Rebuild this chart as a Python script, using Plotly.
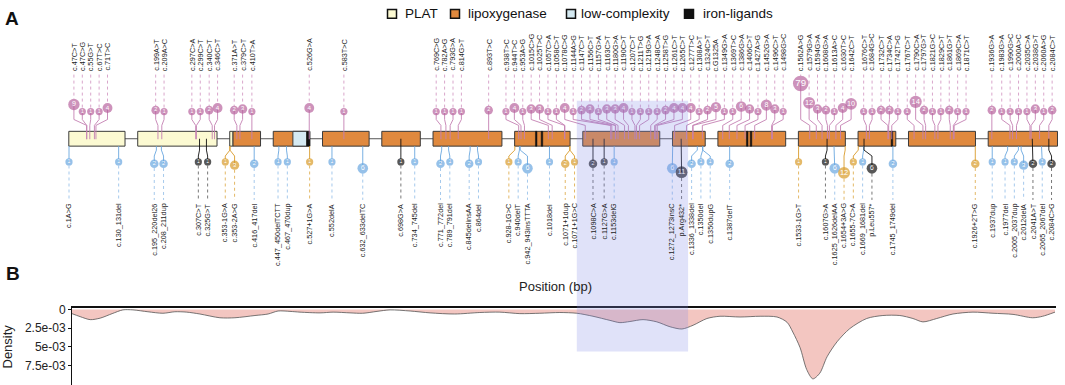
import math
import plotly.graph_objects as go

# ---------------- data ----------------
exon_start = [1, 147, 353, 433, 528, 649, 749, 928, 1072, 1272, 1357, 1533, 1655, 1753, 1927]
exon_end = [146, 352, 432, 527, 648, 748, 927, 1071, 1271, 1356, 1532, 1654, 1752, 1926, 2106]

plat_range = [1, 360]
lipoxygenase_range = [361, 2106]
low_complexity_range = [484, 519]
iron_ligand_ranges = [[520, 527], [982, 985], [997, 1000], [1431, 1434], [1441, 1444], [1741, 1744]]

top_labels = [
    "c.47C>T", "c.47C>G", "c.55G>T", "c.67T>C", "c.71T>C", "c.199A>T", "c.209A>C", "c.297C>A",
    "c.299C>T", "c.340C>T", "c.346C>T", "c.371A>T", "c.379C>T", "c.410T>A", "c.526G>A", "c.583T>C",
    "c.769C>G", "c.782A>G", "c.793G>A", "c.814G>T", "c.893T>C", "c.938T>C", "c.944T>C", "c.953A>G",
    "c.1015C>G", "c.1025T>C", "c.1057C>A", "c.1058C>T", "c.1078C>G", "c.1144A>G", "c.1147C>T",
    "c.1156C>T", "c.1157G>A", "c.1163C>T", "c.1180G>A", "c.1190C>T", "c.1207C>T", "c.1211T>G",
    "c.1219G>A", "c.1248C>A", "c.1258T>G", "c.1261C>T", "c.1265C>T", "c.1277T>C", "c.1308A>T",
    "c.1324C>T", "c.G1325A", "c.1349G>A", "c.1369T>C", "c.1386G>A", "c.1406C>T", "c.1427A>G",
    "c.1452G>A", "c.1496C>T", "c.1498G>C", "c.1562A>G", "c.1579G>A", "c.1594G>A", "c.1608G>A",
    "c.1613A>C", "c.1630T>C", "c.1642C>T", "c.1676C>T", "c.1684G>C", "c.1732C>T", "c.1734C>A",
    "c.1742T>G", "c.1767C>T", "c.1790C>A", "c.1797G>T", "c.1821G>C", "c.1829C>T", "c.1861G>T",
    "c.1869C>A", "c.1871C>T", "c.1936G>A", "c.1983G>A", "c.1990G>C", "c.2000A>C", "c.2035C>A",
    "c.2038G>T", "c.2060A>G", "c.2084C>T",
]
top_cdna = [
    47, 47, 55, 67, 71, 199, 209, 297, 299, 340, 346, 371, 379, 410, 526, 583,
    769, 782, 793, 814, 893, 938, 944, 953, 1015, 1025, 1057, 1058, 1078, 1144, 1147,
    1156, 1157, 1163, 1180, 1190, 1207, 1211, 1219, 1248, 1258, 1261, 1265, 1277, 1308,
    1324, 1325, 1349, 1369, 1386, 1406, 1427, 1452, 1496, 1498, 1562, 1579, 1594, 1608,
    1613, 1630, 1642, 1676, 1684, 1732, 1734, 1742, 1767, 1790, 1797, 1821, 1829, 1861,
    1869, 1871, 1936, 1983, 1990, 2000, 2035, 2038, 2060, 2084,
]
top_counts = [
    9, 1, 1, 1, 4, 2, 1, 1, 1, 2, 4, 2, 3, 1, 4, 1,
    1, 1, 1, 1, 2, 1, 4, 1, 3, 3, 1, 1, 4, 1, 2,
    3, 1, 3, 3, 4, 1, 1, 1, 1, 2, 4, 4, 4, 1,
    2, 5, 1, 1, 6, 3, 1, 8, 3, 1, 79, 12, 3, 2,
    1, 4, 10, 1, 1, 2, 2, 1, 1, 14, 2, 1, 1, 2,
    1, 1, 2, 1, 1, 1, 1, 3, 1, 2,
]

bottom_labels = [
    "c.1A>G", "c.130_131del", "c.195_220del26", "c.208_211dup", "c.307C>T", "c.325G>T",
    "c.353-1G>A", "c.353-2A>G", "c.416_417del", "c.447_450delTCTT", "c.467_470dup", "c.527+1G>A",
    "c.552delA", "c.632_633delTC", "c.698G>A", "c.734_745del", "c.771_772del", "c.789_791del",
    "c.845delinsAA", "c.864del", "c.928-1G>C", "c.940delT", "c.942_943insTTTA", "c.1018del",
    "c.1071+1dup", "c.1071+1G>C", "c.1098C>A", "c.1127G>A", "c.1153delG", "c.1272_1273insC",
    "p.Arg432*", "c.1336_1338del", "c.1350del", "c.1350dupG", "c.1387delT", "c.1533-1G>T",
    "c.1607G>A", "c.1625_1626delAA", "c.1654+3A>G", "c.1655-7C>A", "c.1669_1681del", "p.Leu557*",
    "c.1745_1749del", "c.1926+2T>G", "c.1937dup", "c.1977del", "c.2005_2037dup", "c.2012delA",
    "c.2041A>T", "c.2065_2067del", "c.2084C>G",
]
bottom_cdna = [
    1, 130, 195, 208, 307, 325, 353, 353, 416, 447, 467, 527,
    552, 632, 698, 734, 771, 789, 845, 864, 928, 940, 942, 1018,
    1071, 1071, 1098, 1127, 1153, 1272, 1294, 1336, 1350, 1350, 1387, 1533,
    1607, 1625, 1654, 1655, 1669, 1670, 1745, 1926, 1937, 1977, 2005, 2012,
    2041, 2065, 2084,
]
bottom_counts = [
    1, 1, 2, 2, 1, 1, 1, 3, 2, 1, 1, 1,
    1, 6, 1, 1, 2, 1, 2, 1, 1, 1, 6, 1,
    2, 1, 2, 1, 1, 6, 11, 2, 1, 1, 2, 1,
    1, 6, 12, 1, 1, 6, 2, 2, 1, 1, 1, 3,
    2, 1, 2,
]
bottom_class = [
    "indel", "indel", "indel", "indel", "nonsense", "nonsense", "splice", "splice", "indel", "indel", "indel", "splice",
    "indel", "indel", "nonsense", "indel", "indel", "indel", "indel", "indel", "splice", "indel", "indel", "indel",
    "splice", "splice", "nonsense", "nonsense", "indel", "indel", "nonsense", "indel", "indel", "indel", "indel", "splice",
    "nonsense", "indel", "splice", "splice", "indel", "nonsense", "indel", "splice", "indel", "indel", "indel", "indel",
    "nonsense", "indel", "nonsense",
]

# density of variants along the plotted position (bp, introns compressed)
density_pos = [
    6, 30, 56, 82, 113, 141, 167, 206, 245, 276,
    307, 341, 393, 432, 484, 518, 544, 575, 601, 653,
    687, 731, 764, 801, 835, 887, 939, 1003, 1068, 1120,
    1172, 1224, 1276, 1320, 1362, 1406, 1432, 1458, 1492, 1528,
    1562, 1593, 1622, 1658, 1692, 1744, 1796, 1840, 1866, 1881,
    1900, 1917, 1933, 1951, 1970, 1996, 2029, 2073, 2115, 2159,
    2193, 2219, 2255, 2297, 2349, 2401, 2453, 2504, 2530, 2562,
]
density_val_e3 = [
    0.5, 0.95, 1.35, 1.15, 0.55, 0.05, 0.05, 0.3, 0.5, 0.3,
    0.35, 0.6, 1.1, 1.1, 0.8, 0.6, 0.2, 0.25, 0.35, 0.45,
    0.35, 0.45, 0.5, 0.25, 0.05, 0.2, 0.45, 0.6, 0.4, 0.35,
    0.55, 0.5, 0.4, 0.5, 0.9, 1.45, 1.75, 1.6, 1.35, 1.65,
    2.3, 2.6, 2.1, 1.2, 0.9, 1.0, 0.9, 1.0, 1.7, 3.0,
    5.1, 8.0, 9.25, 8.5, 6.3, 4.3, 2.55, 1.2, 0.8, 0.8,
    1.2, 1.65, 1.2, 0.6, 0.35, 0.5, 0.65, 1.1, 0.9, 0.35,
]
highlight_pos = [1320, 1609]

density_ticks = [0, 0.0025, 0.005, 0.0075]
density_ticktext = ["0", "2.5e-03", "5e-03", "7.5e-03"]

legend_names = ["PLAT", "lipoxygenase", "low-complexity", "iron-ligands"]

# ---------------- layout constants ----------------
W, H = 1065, 385
INTRON_GAP_BP = 33
PX_ORIGIN = 69.0
PX_PER_BP = 0.385
FONT = "Liberation Sans, Arial, sans-serif"

PINK = "#B8649E"
PINK_LINE = "#C480B2"
PINK_DOT = "#D9A6CB"
ORANGE_BOX = "#E0893E"
PLAT_FILL = "#FCFAD2"
LOWC_FILL = "#D5EAF2"
CLASS_COL = {"indel": "#6AA7DF", "splice": "#D99B2A", "nonsense": "#111111"}
CLASS_DOT = {"indel": "#A5C9EC", "splice": "#E3B866", "nonsense": "#777777"}

TRACK_TOP, TRACK_BOT, TRACK_MID = 128, 143, 135.5
LABEL_SIZE = 7.3


def exon_of(c):
    best, bd = 0, 1e9
    for k, (s, e) in enumerate(zip(exon_start, exon_end)):
        if s <= c <= e:
            return k
        d = min(abs(c - s), abs(c - e))
        if d < bd:
            best, bd = k, d
    return best


def plot_pos(c):
    return c + INTRON_GAP_BP * exon_of(c)


def pos_from_px(px):
    return 1 + (px - PX_ORIGIN) / PX_PER_BP


def paper_y(px_y):
    return 1 - px_y / H


def spread(anchors, gap):
    order = sorted(range(len(anchors)), key=lambda i: anchors[i])
    b = [anchors[i] - j * gap for j, i in enumerate(order)]
    blocks = []
    for v in b:
        blocks.append([v, 1])
        while len(blocks) > 1 and blocks[-2][0] / blocks[-2][1] > blocks[-1][0] / blocks[-1][1]:
            s, n = blocks.pop()
            blocks[-1][0] += s
            blocks[-1][1] += n
    z = []
    for s, n in blocks:
        z += [s / n] * n
    out = [0.0] * len(anchors)
    for j, i in enumerate(order):
        out[i] = z[j] + j * gap
    return out


def radius(n):
    return 3.6 + 0.95 * math.log(n)


fig = go.Figure()
shapes = []
annotations = []

# ---------------- gene track ----------------
shapes.append(dict(type="line", xref="x", yref="y", x0=plot_pos(exon_start[0]), x1=plot_pos(exon_end[-1]),
                   y0=TRACK_MID, y1=TRACK_MID, line=dict(color="#555555", width=1), layer="below"))


def domain_rects(rng, fill, line_w=1, line_col="#3a3a3a"):
    out = []
    for k, (s, e) in enumerate(zip(exon_start, exon_end)):
        a, b = max(s, rng[0]), min(e, rng[1])
        if a <= b:
            out.append(dict(type="rect", xref="x", yref="y",
                            x0=a + INTRON_GAP_BP * k - 0.5, x1=b + INTRON_GAP_BP * k + 0.5,
                            y0=TRACK_TOP, y1=TRACK_BOT, fillcolor=fill,
                            line=dict(color=line_col, width=line_w), layer="below"))
    return out


shapes += domain_rects(lipoxygenase_range, ORANGE_BOX)
shapes += domain_rects(plat_range, PLAT_FILL)
shapes += domain_rects(low_complexity_range, LOWC_FILL)
for r in iron_ligand_ranges:
    shapes += domain_rects(r, "#111111", line_w=0.5, line_col="#111111")

# ---------------- top lollipops ----------------
top_anchor = [plot_pos(c) for c in top_cdna]
top_lx = spread(top_anchor, 8.4 / PX_PER_BP)
top_r = [radius(n) for n in top_counts]
top_cy = [108 - 3.6 * (math.sqrt(n) - 1) for n in top_counts]

sx, sy, dx, dy = [], [], [], []
for ax, lx, cy, r in zip(top_anchor, top_lx, top_cy, top_r):
    sx += [lx, lx, ax, ax, None]
    sy += [cy, 116, 122, 136, None]
    dx += [lx, lx, None]
    dy += [70.5, cy - r, None]
fig.add_trace(go.Scatter(x=sx, y=sy, mode="lines", line=dict(color=PINK_LINE, width=0.9),
                         hoverinfo="skip", showlegend=False))
fig.add_trace(go.Scatter(x=dx, y=dy, mode="lines", line=dict(color=PINK_DOT, width=1, dash="dot"),
                         hoverinfo="skip", showlegend=False))
fig.add_trace(go.Scatter(x=top_lx, y=top_cy, mode="markers+text",
                         marker=dict(size=[2 * r for r in top_r], color=PINK, line=dict(width=0)),
                         text=[str(n) for n in top_counts], textposition="middle center",
                         textfont=dict(color="white", size=[max(5, 1.25 * r) for r in top_r], family=FONT),
                         hoverinfo="skip", showlegend=False))
for lab, lx in zip(top_labels, top_lx):
    annotations.append(dict(x=lx, y=69, xref="x", yref="y", text=lab, showarrow=False, textangle=-90,
                            xanchor="center", yanchor="bottom",
                            font=dict(size=LABEL_SIZE, color="#222", family=FONT)))

# ---------------- bottom lollipops ----------------
bot_anchor = [plot_pos(c) for c in bottom_cdna]
bot_lx = spread(bot_anchor, 9.3 / PX_PER_BP)
bot_r = [radius(n) for n in bottom_counts]
bot_cy = [159 + 4.5 * (math.sqrt(n) - 1) for n in bottom_counts]

for cls in ["indel", "splice", "nonsense"]:
    sx, sy, dx, dy = [], [], [], []
    for ax, lx, cy, r, c in zip(bot_anchor, bot_lx, bot_cy, bot_r, bottom_class):
        if c != cls:
            continue
        y0 = TRACK_MID if cls == "nonsense" else TRACK_BOT
        sx += [ax, ax, lx, lx, None]
        sy += [y0, 147, 153, cy, None]
        dx += [lx, lx, None]
        dy += [cy + r, 197.5, None]
    fig.add_trace(go.Scatter(x=sx, y=sy, mode="lines", line=dict(color=CLASS_COL[cls], width=0.9),
                             hoverinfo="skip", showlegend=False))
    fig.add_trace(go.Scatter(x=dx, y=dy, mode="lines", line=dict(color=CLASS_DOT[cls], width=1, dash="dot"),
                             hoverinfo="skip", showlegend=False))

fig.add_trace(go.Scatter(x=bot_lx, y=bot_cy, mode="markers+text",
                         marker=dict(size=[2 * r for r in bot_r], color=[CLASS_COL[c] for c in bottom_class],
                                     line=dict(width=0)),
                         text=[str(n) for n in bottom_counts], textposition="middle center",
                         textfont=dict(color="white", size=[max(5, 1.25 * r) for r in bot_r], family=FONT),
                         hoverinfo="skip", showlegend=False))
for lab, lx in zip(bottom_labels, bot_lx):
    annotations.append(dict(x=lx, y=199, xref="x", yref="y", text=lab, showarrow=False, textangle=-90,
                            xanchor="center", yanchor="top",
                            font=dict(size=LABEL_SIZE, color="#222", family=FONT)))

# ---------------- density panel ----------------
fig.add_trace(go.Scatter(x=density_pos, y=[v * 1e-3 for v in density_val_e3], xaxis="x2", yaxis="y2",
                         mode="lines", line=dict(color="#555555", width=0.8, shape="spline", smoothing=0.8),
                         fill="tozeroy", fillcolor="#F3C6C1", hoverinfo="skip", showlegend=False))

# highlighted region across both panels
shapes.append(dict(type="rect", xref="x", yref="y", x0=highlight_pos[0], x1=highlight_pos[1],
                   y0=97, y1=351, fillcolor="rgba(130,140,230,0.25)", line=dict(width=0), layer="above"))

# ---------------- legend ----------------
leg_sq_px = [392, 455, 571, 689]
leg_tx_px = [403, 466, 579, 701]
leg_fill = [PLAT_FILL, ORANGE_BOX, LOWC_FILL, "#111111"]
for name, sq, tx, fc in zip(legend_names, leg_sq_px, leg_tx_px, leg_fill):
    shapes.append(dict(type="rect", xref="paper", yref="paper", x0=(sq - 4.5) / W, x1=(sq + 4.5) / W,
                       y0=paper_y(13.5), y1=paper_y(4.5), fillcolor=fc, line=dict(color="#111", width=1.5)))
    annotations.append(dict(x=tx / W, y=paper_y(9), xref="paper", yref="paper", text=name, showarrow=False,
                            xanchor="left", yanchor="middle", font=dict(size=13.5, color="#111", family=FONT)))

# panel letters and titles
annotations.append(dict(x=12 / W, y=paper_y(14), xref="paper", yref="paper", text="<b>A</b>", showarrow=False,
                        xanchor="center", yanchor="middle", font=dict(size=19, color="#111", family=FONT)))
annotations.append(dict(x=13 / W, y=paper_y(272), xref="paper", yref="paper", text="<b>B</b>", showarrow=False,
                        xanchor="center", yanchor="middle", font=dict(size=19, color="#111", family=FONT)))
annotations.append(dict(x=555 / W, y=paper_y(285), xref="paper", yref="paper", text="Position (bp)",
                        showarrow=False, xanchor="center", yanchor="middle",
                        font=dict(size=13, color="#222", family=FONT)))
annotations.append(dict(x=8 / W, y=paper_y(346), xref="paper", yref="paper", text="Density", textangle=-90,
                        showarrow=False, xanchor="center", yanchor="middle",
                        font=dict(size=13, color="#222", family=FONT)))

fig.update_layout(
    width=W, height=H, margin=dict(l=0, r=0, t=0, b=0, pad=0),
    paper_bgcolor="white", plot_bgcolor="rgba(0,0,0,0)",
    shapes=shapes, annotations=annotations, showlegend=False,
    font=dict(family=FONT),
    xaxis=dict(domain=[0, 1], range=[pos_from_px(0), pos_from_px(W)], visible=False, fixedrange=True),
    yaxis=dict(domain=[0, 1], range=[H, 0], visible=False, fixedrange=True),
    xaxis2=dict(domain=[71 / W, 1056 / W], range=[pos_from_px(71), pos_from_px(1056)], anchor="y2",
                side="top", showline=True, linecolor="#111", linewidth=2, showticklabels=False,
                ticks="", showgrid=False, zeroline=False, fixedrange=True),
    yaxis2=dict(domain=[0, 78 / H], range=[0.01007, -0.0002], anchor="free", position=71 / W,
                showline=True, linecolor="#111", linewidth=1, ticks="outside", ticklen=3, tickwidth=1,
                tickcolor="#111", tickvals=density_ticks, ticktext=density_ticktext,
                tickfont=dict(size=12, color="#222", family=FONT), showgrid=False, zeroline=False,
                fixedrange=True),
)

fig.write_html("out.html", config={"displayModeBar": False},
               post_script="document.body.style.margin='0';document.body.style.overflow='hidden';")
